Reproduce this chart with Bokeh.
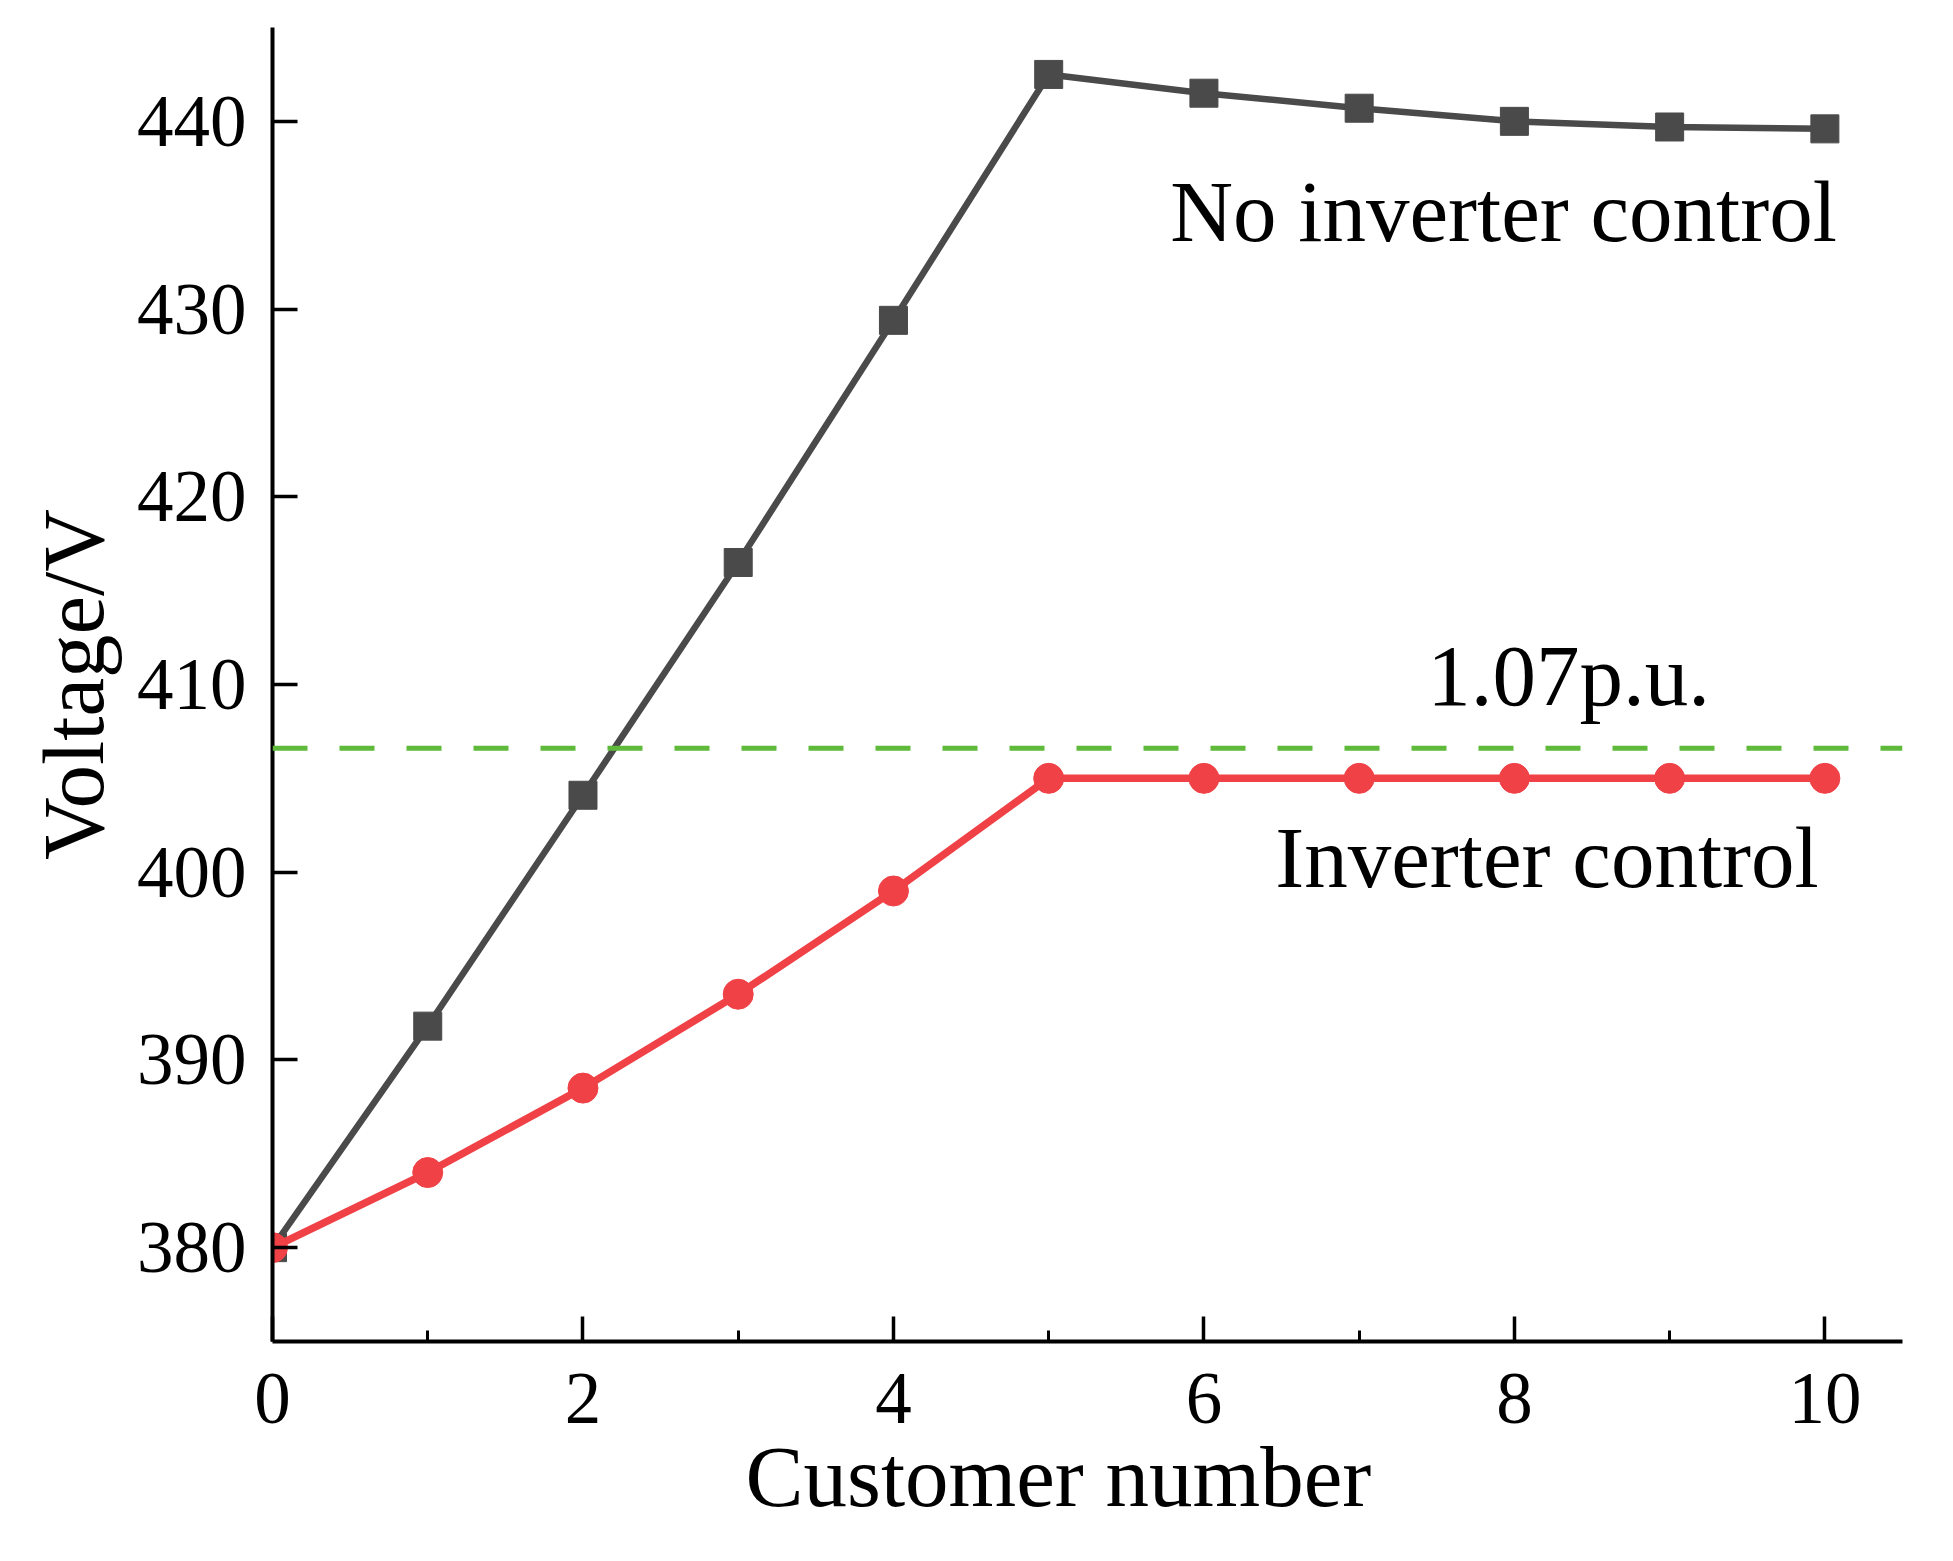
from bokeh.plotting import figure
from bokeh.models import SingleIntervalTicker, FixedTicker, Range1d, Span, ColumnDataSource, Title
from bokeh.core.properties import value
from bokeh.embed import file_html
from bokeh.resources import INLINE

# ---- data ----
customers = [0, 1, 2, 3, 4, 5, 6, 7, 8, 9, 10]
no_inverter_control = [380.0, 391.8, 404.1, 416.5, 429.4, 442.5, 441.5, 440.7, 440.0, 439.7, 439.6]
inverter_control = [380.0, 384.0, 388.5, 393.5, 399.0, 405.0, 405.0, 405.0, 405.0, 405.0, 405.0]
limit_voltage = 1.07 * 380  # 1.07 p.u.
y_ticks = [380, 390, 400, 410, 420, 430, 440]
annot_texts = ["No inverter control", "1.07p.u.", "Inverter control"]
annot_x = [7.93, 8.35, 8.21]
annot_y = [435.18, 410.48, 400.78]
x_title = "Customer number"
y_title = "Voltage/V"

FONT = "Liberation Serif"
GRAY = "#4a4a4a"
RED = "#ef4146"
GREEN = "#5fba3c"

p = figure(width=1953, height=1561, output_backend="svg", toolbar_location=None,
           x_range=Range1d(0, 10.5), y_range=Range1d(375, 445),
           min_border_left=272, min_border_right=51, min_border_top=27, min_border_bottom=220)
p.outline_line_color = None
p.grid.visible = False
p.background_fill_color = "white"
p.border_fill_color = "white"

# axes
p.xaxis.ticker = SingleIntervalTicker(interval=2, num_minor_ticks=2)
p.yaxis.ticker = FixedTicker(ticks=y_ticks)
for ax in (p.xaxis, p.yaxis):
    ax.axis_line_width = 4
    ax.axis_line_color = "black"
    ax.major_tick_line_width = 3.5
    ax.major_tick_line_color = "black"
    ax.minor_tick_line_width = 3
    ax.minor_tick_line_color = "black"
    ax.major_tick_in = 25
    ax.major_tick_out = 0
    ax.minor_tick_in = 11
    ax.minor_tick_out = 0
    ax.major_label_text_font = FONT
    ax.major_label_text_font_size = "73px"
    ax.major_label_text_color = "black"
    ax.axis_label_text_font = FONT
    ax.axis_label_text_font_size = "87px"
    ax.axis_label_text_font_style = "normal"
    ax.axis_label_text_color = "black"
p.yaxis.minor_tick_line_color = None
p.yaxis.axis_label = y_title
p.xaxis.major_label_standoff = 32
p.yaxis.major_label_standoff = 26
p.yaxis.axis_label_standoff = 12

# x-axis title, centred on the 0-10 span as in the original
p.add_layout(Title(text=x_title, align="left", offset=473, standoff=0,
                   text_font=FONT, text_font_size="87px", text_font_style="normal",
                   text_color="black"), "below")

src = ColumnDataSource(data=dict(x=customers, nc=no_inverter_control, ic=inverter_control))

# limit line
p.add_layout(Span(location=limit_voltage, dimension="width", line_color=GREEN,
                  line_width=5, line_dash="35 32"))

# no inverter control
p.line("x", "nc", source=src, line_color=GRAY, line_width=6.5)
p.scatter("x", "nc", source=src, marker="square", size=28, fill_color=GRAY, line_color=GRAY)

# inverter control
p.line("x", "ic", source=src, line_color=RED, line_width=7.5)
p.scatter("x", "ic", source=src, marker="circle", size=30, fill_color=RED, line_color=RED)

# annotations
asrc = ColumnDataSource(data=dict(x=annot_x, y=annot_y, t=annot_texts))
p.text("x", "y", text="t", source=asrc, text_font=value(FONT), text_font_size="87px",
       text_align="center", text_baseline="alphabetic", text_color="black")

open("out.html", "w").write(file_html(p, INLINE))
